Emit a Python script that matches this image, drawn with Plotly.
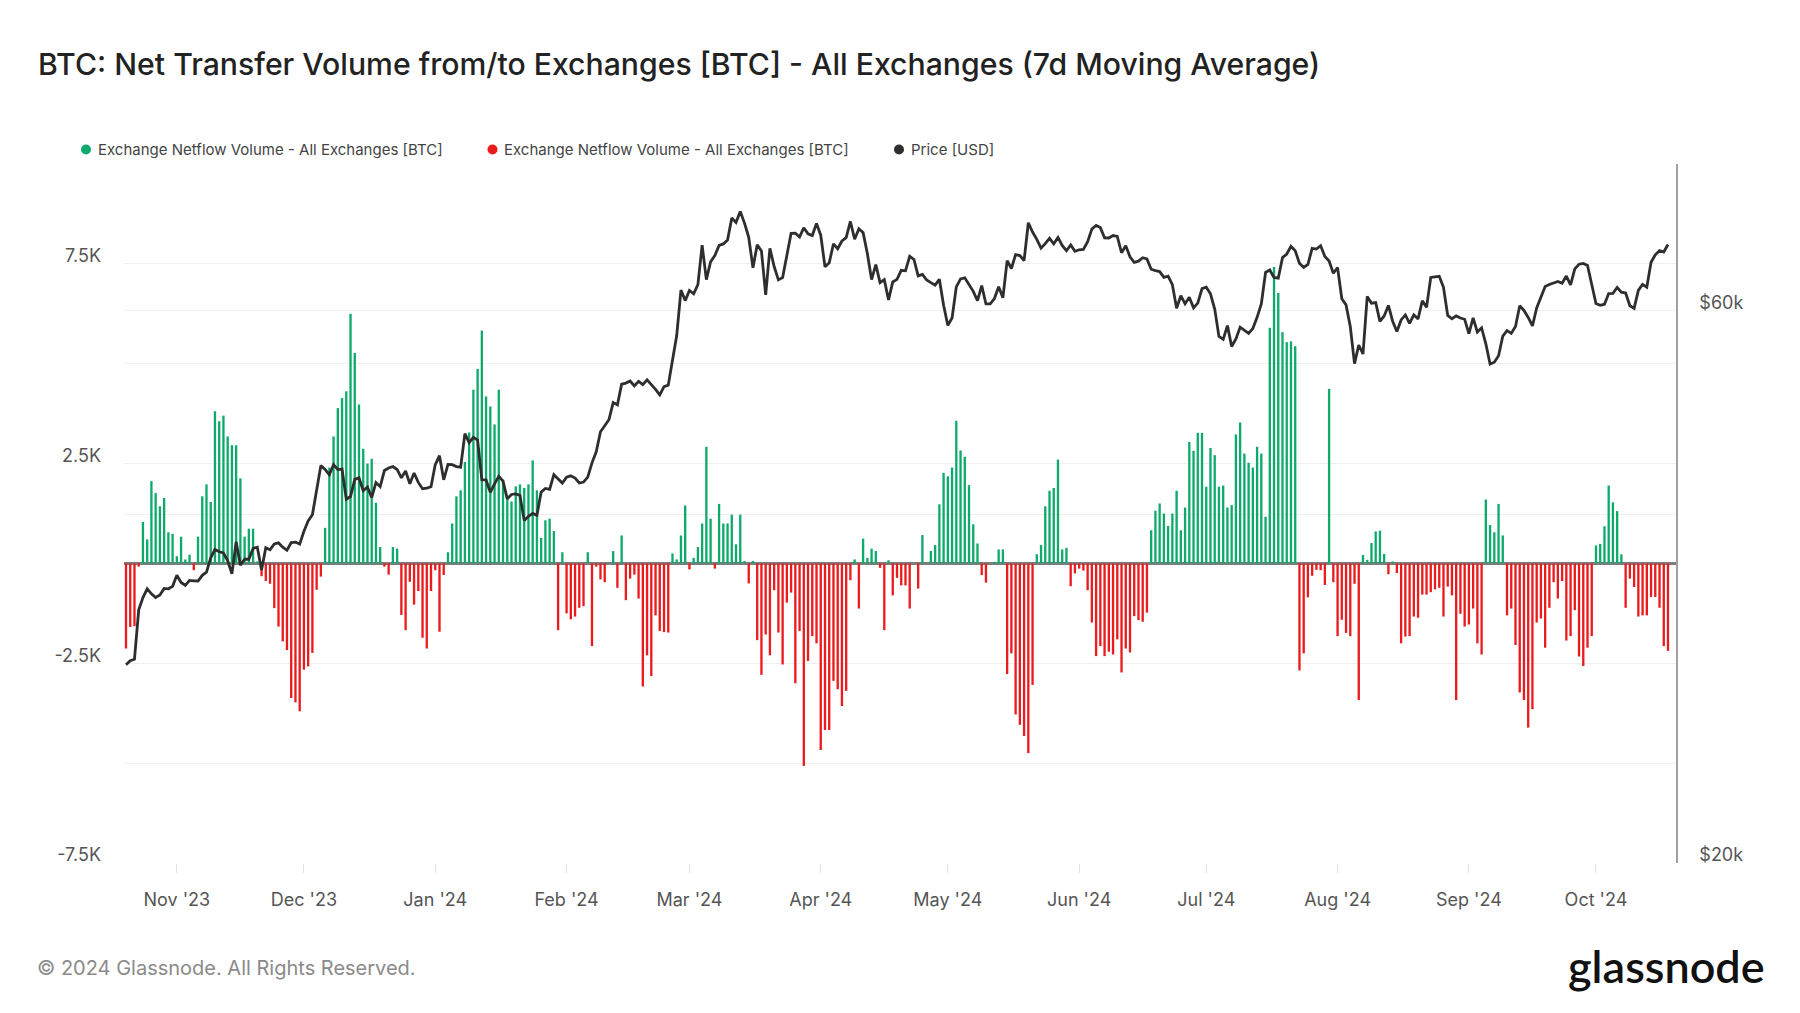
import math
import pandas as pd
import plotly.graph_objects as go

# ---------------- data ----------------
start_date = "2023-10-20"

# Exchange netflow, 7d MA, thousands of BTC (one value per day)
netflow_oct23 = [-2.13, -1.59, -1.57, -0.08, 1.04, 0.60, 2.06, 1.76, 1.43, 1.64, 0.78, 0.74]
netflow_nov23 = [0.18, 0.67, 0.10, 0.22, -0.17, 0.67, 1.68, 1.98, 1.54, 3.81, 3.56, 3.70, 3.18, 2.96, 2.96,
                 2.13, 0.67, 0.87, 0.87, 0.05, -0.32, -0.44, -0.51, -1.12, -1.58, -1.95, -2.17, -3.37, -3.48, -3.70]
netflow_dec23 = [-2.66, -2.58, -2.24, -0.66, -0.33, 0.89, 2.40, 3.18, 3.89, 4.14, 4.31, 6.25, 5.27, 3.98, 2.87,
                 2.50, 2.62, 1.52, 0.41, -0.08, -0.28, 0.41, 0.37, -1.29, -1.67, -0.46, -1.03, -0.69, -1.86, -2.13, -0.69]
netflow_jan24 = [-0.17, -1.71, -0.29, 0.28, 1.00, 1.68, 1.83, 2.54, 3.28, 4.35, 4.87, 5.83, 4.18, 3.93, 3.48,
                 4.35, 2.10, 1.70, 1.55, 1.93, 1.98, 1.89, 1.98, 2.58, 1.83, 0.64, 1.08, 1.12, 0.81, -1.67, 0.28]
netflow_feb24 = [-1.25, -1.40, -1.33, -1.11, -1.07, 0.28, -2.07, -0.08, -0.40, -0.47, 0.0, 0.31, -0.61, 0.70, -0.92,
                 -0.38, -0.28, -0.88, -3.08, -2.30, -2.82, -1.30, -1.69, -1.72, -1.73, 0.25, 0.10, 0.70, 1.45]
netflow_mar24 = [-0.15, 0.14, 0.41, 1.00, 2.92, 1.12, -0.13, 1.49, 1.00, 1.00, 1.22, 0.48, 1.22, 0.06, -0.50,
                 0.06, -1.92, -2.79, -1.78, -2.30, -0.67, -1.73, -2.53, -0.98, -0.73, -3.00, -1.69, -5.07, -2.44, -1.82, -2.00]
netflow_apr24 = [-4.67, -4.17, -4.17, -2.94, -3.15, -3.57, -3.19, -0.42, 0.10, -1.13, 0.62, 0.14, 0.37, 0.31, -0.11,
                 -1.67, 0.08, -0.80, -0.36, -0.55, -0.55, -1.13, 0.0, -0.63, 0.71, 0.0, 0.31, 0.46, 1.48, 2.27]
netflow_may24 = [2.18, 2.40, 3.57, 2.83, 2.67, 1.96, 0.98, 0.50, -0.29, -0.48, 0.0, 0.04, 0.35, 0.35, -2.77,
                 -2.25, -3.78, -4.04, -4.32, -4.75, -3.04, 0.23, 0.46, 1.43, 1.82, 1.89, 2.60, 0.35, 0.39, -0.57, -0.25]
netflow_jun24 = [-0.13, -0.18, -0.67, -1.48, -2.32, -2.07, -2.32, -2.21, -2.28, -1.90, -2.73, -2.13, -2.23, -1.32, -1.42,
                 -1.46, -1.23, 0.83, 1.32, 1.50, 1.25, 0.94, 1.25, 1.82, 0.83, 1.40, 3.04, 2.82, 3.27, 3.27]
netflow_jul24 = [1.92, 2.89, 2.71, 1.92, 1.95, 1.40, 1.46, 3.23, 3.53, 2.75, 2.52, 2.40, 2.92, 2.75, 1.17,
                 5.90, 7.42, 6.77, 5.79, 5.54, 5.56, 5.44, -2.68, -2.25, -0.85, -0.31, -0.16, -0.17, -0.54, 4.37, -0.47]
netflow_aug24 = [-1.82, -1.41, -1.74, -1.82, -0.51, -3.42, 0.21, 0.09, 0.51, 0.80, 0.82, 0.24, -0.27, 0.05, -0.24,
                 -2.00, -1.83, -1.82, -1.33, -1.36, -0.78, -0.78, -0.72, -0.65, -0.61, -1.33, -0.58, -0.80, -3.42, -1.26, -1.58]
netflow_sep24 = [-1.53, -1.13, -2.00, -2.28, 1.60, 0.96, 0.78, 1.49, 0.70, -1.30, -1.13, -2.04, -3.23, -3.42, -4.11,
                 -3.65, -1.48, -1.38, -2.11, -1.11, -0.47, -0.88, -0.44, -1.93, -1.82, -1.17, -2.33, -2.57, -2.11, -1.82]
netflow_oct24 = [0.45, 0.49, 0.93, 1.95, 1.53, 1.31, 0.23, -1.11, -0.38, -0.59, -1.33, -1.30, -1.30, -0.84, -0.84,
                 -1.11, -2.07, -2.19]

# BTC price, thousands of USD (one value per day)
price_oct23 = [29.67, 29.91, 29.99, 33.09, 33.90, 34.50, 34.16, 33.91, 34.08, 34.53, 34.50, 34.67]
price_nov23 = [35.44, 34.94, 34.73, 35.08, 35.05, 35.04, 35.44, 35.66, 36.69, 37.31, 37.14, 37.05, 36.50, 35.54, 37.88,
               36.15, 36.60, 36.59, 37.39, 37.48, 35.81, 37.43, 37.29, 37.72, 37.80, 37.48, 37.25, 37.83, 37.86, 37.71]
price_dec23 = [38.69, 39.48, 39.98, 41.98, 44.08, 43.75, 43.29, 44.17, 43.73, 43.78, 41.24, 41.45, 42.89, 43.02, 41.93,
               42.24, 41.37, 42.62, 42.27, 43.65, 43.87, 44.00, 43.74, 43.02, 43.61, 42.52, 43.44, 42.63, 42.10, 42.14, 42.27]
price_jan24 = [44.17, 44.96, 42.85, 44.18, 44.16, 43.99, 43.94, 46.97, 46.14, 46.63, 46.37, 42.85, 42.84, 41.80, 42.51,
               43.15, 42.74, 41.26, 41.62, 41.67, 41.55, 39.51, 39.85, 40.08, 39.93, 41.82, 42.12, 42.04, 43.29, 42.95, 42.58]
price_feb24 = [43.08, 43.19, 43.00, 42.58, 42.66, 43.08, 44.32, 45.30, 47.15, 47.77, 48.29, 49.96, 49.74, 51.83, 51.94,
               52.16, 51.66, 52.12, 51.78, 52.28, 51.84, 51.30, 50.73, 51.57, 51.73, 54.52, 57.09, 62.50, 61.20]
price_mar24 = [62.44, 62.03, 63.17, 68.33, 63.80, 66.11, 66.93, 68.30, 68.50, 69.02, 72.12, 71.48, 73.08, 71.40, 69.40,
               65.32, 68.39, 67.55, 61.91, 67.91, 65.49, 63.78, 64.06, 67.23, 69.96, 69.99, 69.46, 70.74, 69.89, 69.65, 71.33]
price_apr24 = [69.70, 65.45, 65.98, 68.51, 67.84, 68.90, 69.36, 71.63, 69.14, 70.59, 70.06, 67.20, 63.82, 65.74, 63.43,
               63.81, 61.28, 63.51, 63.84, 64.99, 64.93, 66.84, 66.41, 64.28, 64.48, 63.76, 63.42, 63.11, 63.84, 60.64]
price_may24 = [58.25, 59.12, 62.89, 63.89, 64.03, 63.16, 62.34, 61.19, 63.05, 60.79, 60.79, 61.45, 62.90, 61.55, 66.27,
               65.23, 67.05, 66.94, 66.28, 71.45, 70.14, 69.12, 67.93, 68.53, 69.27, 68.52, 69.39, 68.30, 67.58, 68.36, 67.49]
price_jun24 = [67.71, 67.75, 68.80, 70.57, 71.08, 70.76, 69.34, 69.31, 69.65, 69.54, 67.31, 68.26, 66.77, 66.04, 66.19,
               66.64, 66.49, 65.14, 64.96, 64.83, 64.10, 64.25, 63.18, 60.28, 61.80, 60.81, 61.60, 60.32, 60.89, 62.68]
price_jul24 = [62.85, 62.03, 60.17, 56.98, 56.66, 58.23, 55.86, 56.71, 58.05, 57.73, 57.34, 57.89, 59.20, 60.80, 64.72,
               65.04, 64.09, 63.99, 66.66, 67.14, 68.17, 67.58, 65.93, 65.37, 65.78, 67.91, 67.81, 68.26, 66.82, 66.20, 64.62]
price_aug24 = [65.36, 61.42, 60.68, 58.12, 53.99, 56.03, 55.03, 61.71, 60.88, 60.95, 58.72, 59.36, 60.61, 58.74, 57.56,
               58.89, 59.48, 58.48, 59.49, 59.01, 61.18, 60.38, 64.09, 64.18, 64.22, 62.83, 59.42, 59.03, 59.36, 59.12, 58.97]
price_sep24 = [57.30, 59.13, 57.49, 57.97, 56.16, 53.95, 54.14, 54.84, 57.02, 57.65, 57.34, 58.13, 60.57, 60.01, 59.18,
               58.19, 60.31, 61.65, 62.94, 63.19, 63.35, 63.58, 63.34, 64.26, 63.14, 65.18, 65.79, 65.89, 65.64, 63.33]
price_oct24 = [60.84, 60.63, 60.76, 62.07, 62.09, 62.82, 62.24, 62.13, 60.58, 60.27, 62.45, 63.19, 62.85, 66.05, 67.04,
               67.61, 67.40, 68.42]

netflow_k = (netflow_oct23 + netflow_nov23 + netflow_dec23 + netflow_jan24 + netflow_feb24 + netflow_mar24 +
             netflow_apr24 + netflow_may24 + netflow_jun24 + netflow_jul24 + netflow_aug24 + netflow_sep24 +
             netflow_oct24)
price_k = (price_oct23 + price_nov23 + price_dec23 + price_jan24 + price_feb24 + price_mar24 + price_apr24 +
           price_may24 + price_jun24 + price_jul24 + price_aug24 + price_sep24 + price_oct24)

left_tickvals = [-7500, -5000, -2500, 0, 2500, 5000, 7500, 10000]
left_ticktext = ["-7.5K", "", "-2.5K", "", "2.5K", "", "7.5K", ""]
right_tickvals = [20000, 40000, 60000]
right_ticktext = ["$20k", "", "$60k"]

series_name = "Exchange Netflow Volume - All Exchanges [BTC]"
price_name = "Price [USD]"
title_text = "BTC: Net Transfer Volume from/to Exchanges [BTC] - All Exchanges (7d Moving Average)"
legend_names = [series_name, series_name, price_name]

# ---------------- build ----------------
dates = pd.date_range(start_date, periods=len(netflow_k), freq="D")
pdates = pd.date_range(start_date, periods=len(price_k), freq="D")
netflow = [v * 1000 for v in netflow_k]
green_vals = [v if v > 0 else None for v in netflow]
red_vals = [v if v < 0 else None for v in netflow]
price = [p * 1000 for p in price_k]

GREEN = "#0EAA6C"
RED = "#EB1B1D"
BLACK = "#2E2E2E"
FONT = "Inter, Roboto, sans-serif"
legend_colors = [GREEN, RED, BLACK]

W, H = 1800, 1013
L, R, T, B = 124, 124, 164, 150
plot_w = W - L - R
plot_h = H - T - B


def px_x(px):
    return (px - L) / plot_w


def px_y(py):
    return (H - B - py) / plot_h


bar_w = 0.55 * 86400000

fig = go.Figure()
fig.add_trace(go.Bar(x=dates, y=green_vals, marker=dict(color=GREEN, line=dict(width=0)),
                     width=bar_w, showlegend=False, name=series_name))
fig.add_trace(go.Bar(x=dates, y=red_vals, marker=dict(color=RED, line=dict(width=0)),
                     width=bar_w, showlegend=False, name=series_name))
fig.add_trace(go.Scatter(x=pdates, y=price, yaxis="y2", mode="lines",
                         line=dict(color=BLACK, width=2.8), showlegend=False, name=price_name))

# legend drawn as dot + text (reference layout)
legend_dot_px = [86, 492.5, 899]
legend_y_px = 149.5
shapes = []
annotations = []
for nm, col, dx in zip(legend_names, legend_colors, legend_dot_px):
    shapes.append(dict(type="circle", xref="paper", yref="paper", xsizemode="pixel", ysizemode="pixel",
                       xanchor=px_x(dx), yanchor=px_y(legend_y_px), x0=-5, x1=5, y0=-5, y1=5,
                       fillcolor=col, line=dict(width=0)))
    annotations.append(dict(text=nm, xref="paper", yref="paper", x=px_x(dx + 9.5), y=px_y(legend_y_px),
                            xanchor="left", yanchor="middle", showarrow=False,
                            font=dict(size=15, color="#444444", family=FONT)))

annotations += [
    dict(text="© 2024 Glassnode. All Rights Reserved.", xref="paper", yref="paper",
         x=px_x(35), y=px_y(968), xanchor="left", yanchor="middle",
         showarrow=False, font=dict(size=20, color="#8a8a8a", family=FONT)),
    dict(text="glassnode", xref="paper", yref="paper",
         x=px_x(1767), y=px_y(966), xanchor="right", yanchor="middle",
         showarrow=False, font=dict(size=45, color="#111111", family="Lato, sans-serif", weight=600)),
]

fig.update_layout(
    width=W, height=H,
    margin=dict(l=L, r=R, t=T, b=B),
    paper_bgcolor="white", plot_bgcolor="white",
    barmode="overlay",
    showlegend=False,
    font=dict(family=FONT, color="#555555"),
    title=dict(text=title_text, x=38 / W, xanchor="left", y=1 - 64 / H, yanchor="middle",
               font=dict(size=30.2, color="#222222", family=FONT, weight=500)),
    xaxis=dict(type="date", range=["2023-10-19 12:40", "2024-10-19 21:20"],
               tickformat="%b '%y", dtick="M1", tick0="2023-11-01",
               showgrid=False, zeroline=False, showline=False,
               ticks="outside", ticklen=9, tickcolor="#e3e3e3", tickwidth=1,
               tickfont=dict(size=18, color="#555555"), ticklabelstandoff=11),
    yaxis=dict(range=[-7500, 10000], tickvals=left_tickvals, ticktext=left_ticktext,
               showgrid=True, gridcolor="#efefef", gridwidth=1,
               zeroline=True, zerolinecolor="#7d7d7d", zerolinewidth=2.5,
               showline=False, ticks="",
               tickfont=dict(size=18, color="#555555"),
               ticklabelstandoff=22, ticklabelshift=-8),
    yaxis2=dict(overlaying="y", side="right", type="log",
                range=[math.log10(20000), math.log10(80300)],
                tickvals=right_tickvals, ticktext=right_ticktext,
                showgrid=True, gridcolor="#efefef", gridwidth=1, zeroline=False,
                showline=True, linecolor="#a0a0a0", linewidth=1.5, ticks="",
                tickfont=dict(size=18, color="#555555"),
                ticklabelstandoff=18, ticklabelshift=-8),
    shapes=shapes,
    annotations=annotations,
)

fig.write_html("out.html", config={"displayModeBar": False},
               post_script="document.body.style.margin='0px';")
